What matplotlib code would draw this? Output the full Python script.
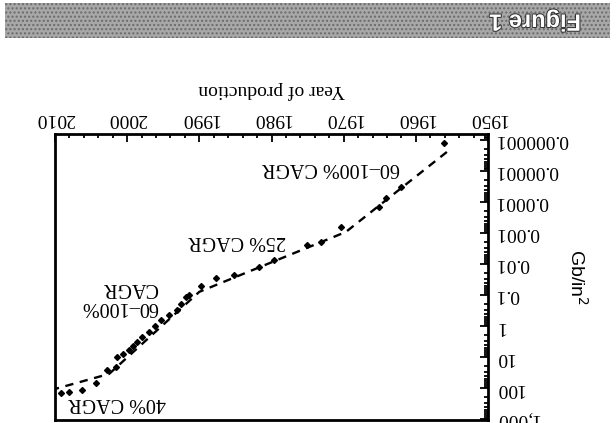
import matplotlib
matplotlib.use('Agg')
import matplotlib.pyplot as plt
from matplotlib.ticker import FixedLocator, FixedFormatter, LogLocator, NullFormatter
from matplotlib.patches import Rectangle
import matplotlib.patheffects as pe

plt.rcParams['font.family'] = ['Liberation Serif', 'DejaVu Serif']

# ---- data (areal density, Gb/in^2) ----
point_years = [1956.1, 1962.1, 1964.1, 1965.1, 1970.4, 1973.1, 1975.1, 1979.7,
               1981.7, 1985.2, 1987.7, 1989.8, 1991.4, 1991.8, 1992.6, 1993.1,
               1994.2, 1995.3, 1996.2, 1997.0, 1997.9, 1998.6, 1999.2, 1999.7,
               2000.6, 2001.4, 2001.5, 2002.8, 2004.3, 2006.3, 2008.1, 2009.2]
point_values = [1.3e-6, 3.3e-5, 7.4e-5, 1.5e-4, 6.4e-4, 1.9e-3, 2.4e-3, 7.4e-3,
                1.26e-2, 2.2e-2, 2.8e-2, 5.1e-2, 0.10, 0.115, 0.2, 0.30,
                0.45, 0.65, 1.0, 1.55, 2.3, 3.3, 4.3, 5.9,
                8.0, 10.0, 21.0, 26.0, 71.0, 115.0, 135.0, 145.0]

trend_years = [1955.7, 1969.7, 1990.0, 2002.5, 2010.0]
trend_values = [2.45e-6, 9.3e-4, 0.079, 35.0, 107.0]

x_ticks = [1950, 1960, 1970, 1980, 1990, 2000, 2010]
y_ticks = [1e-6, 1e-5, 1e-4, 1e-3, 1e-2, 1e-1, 1, 10, 100, 1000]
y_tick_labels = ["0.000001", "0.00001", "0.0001", "0.001", "0.01", "0.1",
                 "1", "10", "100", "1,000"]

annotations = [
    ("60\u2013100% CAGR", 1971.8, 7.9e-6),
    ("25% CAGR", 1984.8, 1.7e-3),
    ("60\u2013100%\nCAGR", 2001.0, 0.115),
    ("40% CAGR", 2001.4, 302.0),
]

W, H = 616, 423
fig = plt.figure(figsize=(W / 100, H / 100), dpi=100)

def fx(px):
    return px / W

def fy(py):
    return 1 - py / H

# header bar
bar = Rectangle((fx(5), fy(38)), fx(610) - fx(5), fy(3) - fy(38),
                transform=fig.transFigure, facecolor='#a8a8a8',
                edgecolor='#6a6a6a', hatch='....', linewidth=0)
fig.patches.append(bar)
fig.text(fx(535), fy(21), 'Figure 1', rotation=180, color='white',
         fontweight='bold', fontsize=17, family=['Liberation Sans', 'DejaVu Sans'],
         ha='center', va='center',
         path_effects=[pe.withStroke(linewidth=1.5, foreground='#333333')])

ax = fig.add_axes([fx(55), fy(420), fx(488) - fx(55), fy(134) - fy(420)])
ax.set_yscale('log')
ax.set_xlim(2010, 1950)
ax.set_ylim(10 ** 3.03, 10 ** -6.19)

ax.plot(trend_years, trend_values, linestyle=(0, (3.5, 2.8)), color='black', lw=1.7)
ax.plot(point_years, point_values, 'D', ms=3, color='black', linestyle='none')

for txt, xv, yv in annotations:
    ax.text(xv, yv, txt, rotation=180, ha='center', va='center',
            fontsize=14.5, multialignment='left', linespacing=1.0)

ax.xaxis.tick_top()
ax.yaxis.tick_right()
ax.xaxis.set_major_locator(FixedLocator(x_ticks))
ax.xaxis.set_minor_locator(FixedLocator(list(range(1950, 2011, 2))))
ax.yaxis.set_major_locator(FixedLocator(y_ticks))
ax.yaxis.set_major_formatter(FixedFormatter(y_tick_labels))
ax.yaxis.set_minor_locator(LogLocator(base=10, subs=range(2, 10), numticks=20))
ax.yaxis.set_minor_formatter(NullFormatter())
ax.tick_params(which='both', direction='in', width=1.3, labelsize=14,
               labelrotation=180, pad=5)
ax.tick_params(which='major', length=6)
ax.tick_params(which='minor', length=3)
for lab in ax.get_yticklabels():
    lab.set_va('center')

for s in ax.spines.values():
    s.set_linewidth(2)

ax.xaxis.set_label_position('top')
ax.set_xlabel('Year of production', rotation=180, fontsize=14)
ax.xaxis.set_label_coords(0.5, 1 + (134 - 90) / 286)
ax.xaxis.label.set_va('center')

ax.yaxis.set_label_position('right')
ax.set_ylabel('Gb/in$^2$', rotation=270, fontsize=14,
              family=['Liberation Sans', 'DejaVu Sans'])
ax.yaxis.set_label_coords((577 - 55) / 433, 0.5)
ax.yaxis.label.set_va('center')
ax.yaxis.label.set_ha('center')

fig.savefig('out.png', dpi=100)
